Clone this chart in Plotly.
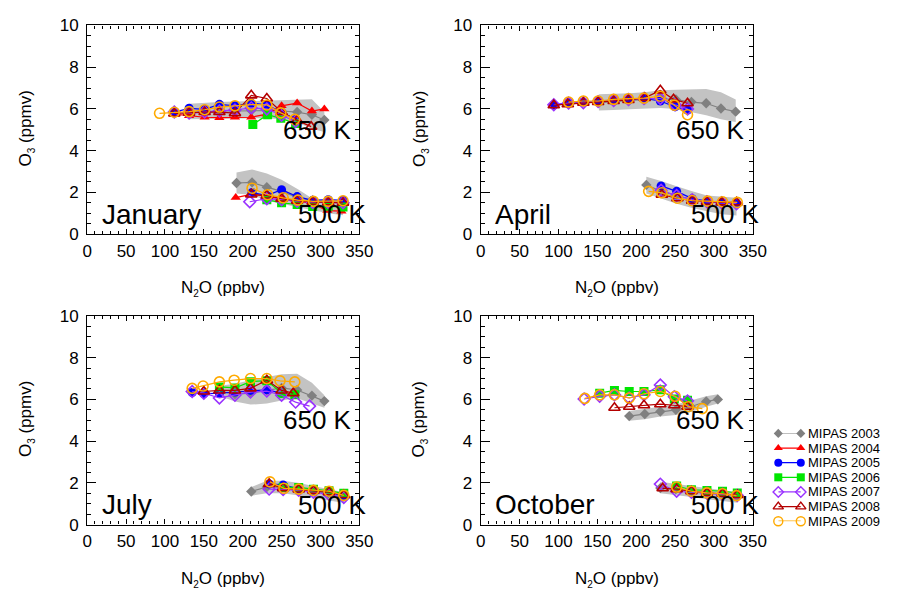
import plotly.graph_objects as go

FONT = "Arial, Liberation Sans, Helvetica, sans-serif"

YEARS = [2003, 2004, 2005, 2006, 2007, 2008, 2009]
LEGEND_LABELS = ["MIPAS 2003", "MIPAS 2004", "MIPAS 2005", "MIPAS 2006",
                 "MIPAS 2007", "MIPAS 2008", "MIPAS 2009"]
MONTHS = ["January", "April", "July", "October"]
LEVELS = ["650 K", "500 K"]
X_TICKS = [0, 50, 100, 150, 200, 250, 300, 350]
Y_TICKS = [0, 2, 4, 6, 8, 10]

# ---------------- January ----------------
jan650_x03 = [131, 151, 170, 190, 211, 231, 250, 270, 289, 305]
jan650_y03 = [5.85, 5.88, 5.9, 5.9, 5.92, 5.92, 5.9, 5.85, 5.72, 5.47]
jan650_hi03 = [6.25, 6.3, 6.33, 6.35, 6.37, 6.4, 6.42, 6.44, 6.46, 5.85]
jan650_lo03 = [5.5, 5.52, 5.55, 5.55, 5.55, 5.55, 5.5, 5.35, 5.05, 4.9]
jan650_x04 = [112, 131, 151, 170, 190, 211, 231, 250, 270, 289, 305]
jan650_y04 = [5.75, 5.67, 5.6, 5.58, 5.6, 5.6, 5.75, 6.15, 6.28, 5.9, 6.0]
jan650_x05 = [112, 131, 151, 170, 190, 211, 231, 250, 268]
jan650_y05 = [5.85, 6.03, 5.98, 6.22, 6.15, 6.28, 6.2, 5.85, 5.5]
jan650_x06 = [213, 232, 249, 268]
jan650_y06 = [5.25, 5.72, 5.55, 5.3]
jan650_x07 = [112, 131, 151, 170, 190, 211, 231, 250, 268]
jan650_y07 = [5.85, 5.8, 5.85, 5.9, 5.95, 6.05, 6.0, 5.7, 5.4]
jan650_x08 = [112, 131, 151, 170, 190, 211, 231, 250, 270, 288]
jan650_y08 = [5.78, 5.82, 5.85, 5.85, 5.8, 6.65, 6.5, 5.85, 5.45, 5.15]
jan650_x09 = [93, 112, 131, 151, 170, 190, 211, 231, 249, 267]
jan650_y09 = [5.79, 5.84, 5.87, 5.96, 6.09, 6.15, 6.21, 6.19, 5.81, 5.5]

jan500_x03 = [192, 212, 231, 250, 271, 290, 310, 329]
jan500_y03 = [2.45, 2.48, 2.25, 2.05, 1.75, 1.6, 1.55, 1.52]
jan500_hi03 = [2.95, 3.1, 2.9, 2.6, 2.15, 1.7, 1.62, 1.6]
jan500_lo03 = [1.95, 1.88, 1.6, 1.45, 1.3, 1.15, 1.0, 0.9]
jan500_x04 = [191, 211, 232, 250, 270, 290, 309, 327]
jan500_y04 = [1.75, 1.9, 1.82, 1.68, 1.6, 1.45, 1.13, 1.1]
jan500_x05 = [212, 231, 250, 270, 290, 310, 329]
jan500_y05 = [2.0, 1.85, 2.13, 1.8, 1.62, 1.65, 1.62]
jan500_x06 = [231, 250, 270, 290, 310, 329]
jan500_y06 = [1.65, 1.5, 1.42, 1.32, 1.33, 1.3]
jan500_x07 = [209, 231, 250, 270, 290, 310, 329]
jan500_y07 = [1.55, 1.7, 1.65, 1.58, 1.52, 1.52, 1.5]
jan500_x08 = [211, 231, 250, 270, 290, 310, 329]
jan500_y08 = [1.9, 1.85, 1.7, 1.6, 1.55, 1.52, 1.5]
jan500_x09 = [212, 232, 252, 271, 291, 310, 329]
jan500_y09 = [2.2, 1.89, 1.74, 1.63, 1.57, 1.57, 1.6]

# ---------------- April ----------------
apr650_x03 = [152, 171, 191, 211, 231, 251, 271, 290, 309, 328]
apr650_y03 = [6.3, 6.35, 6.4, 6.45, 6.5, 6.45, 6.33, 6.27, 6.02, 5.87]
apr650_hi03 = [6.7, 6.72, 6.75, 6.8, 6.9, 6.92, 6.93, 6.95, 6.8, 6.45]
apr650_lo03 = [5.92, 5.95, 5.98, 6.0, 6.05, 6.0, 5.85, 5.7, 5.5, 5.37]
apr650_x05 = [94, 113, 132, 151, 171, 190, 210, 231, 250, 266]
apr650_y05 = [6.18, 6.3, 6.33, 6.35, 6.42, 6.45, 6.5, 6.38, 6.1, 5.95]
apr650_x07 = [94, 113, 132, 151, 171, 190, 210, 231, 250, 266]
apr650_y07 = [6.2, 6.28, 6.3, 6.35, 6.4, 6.45, 6.5, 6.5, 6.2, 6.0]
apr650_x08 = [94, 112, 132, 151, 171, 190, 211, 231, 248, 266]
apr650_y08 = [6.18, 6.23, 6.3, 6.33, 6.38, 6.43, 6.53, 6.89, 6.46, 6.27]
apr650_x09 = [113, 132, 151, 171, 190, 210, 231, 249, 266]
apr650_y09 = [6.33, 6.38, 6.38, 6.46, 6.49, 6.52, 6.61, 6.18, 5.72]

apr500_x03 = [213, 232, 252, 272, 291, 310, 329]
apr500_y03 = [2.36, 2.05, 1.85, 1.65, 1.55, 1.5, 1.45]
apr500_hi03 = [2.75, 2.55, 2.3, 2.05, 1.85, 1.78, 1.74]
apr500_lo03 = [1.95, 1.7, 1.45, 1.25, 1.1, 0.95, 0.89]
apr500_x05 = [232, 252, 272, 291, 310, 329]
apr500_y05 = [2.31, 2.05, 1.7, 1.58, 1.52, 1.5]
apr500_x07 = [232, 252, 272, 291, 310, 329]
apr500_y07 = [2.1, 1.85, 1.65, 1.55, 1.5, 1.45]
apr500_x08 = [233, 253, 272, 291, 310, 329]
apr500_y08 = [1.89, 1.72, 1.6, 1.55, 1.52, 1.52]
apr500_x09 = [216, 233, 253, 272, 292, 311, 330]
apr500_y09 = [2.05, 1.98, 1.72, 1.61, 1.58, 1.55, 1.52]

# ---------------- July ----------------
jul650_x03 = [171, 190, 210, 231, 250, 270, 289, 305]
jul650_y03 = [6.4, 6.25, 6.3, 6.45, 6.55, 6.45, 6.18, 5.92]
jul650_hi03 = [6.65, 6.75, 6.92, 7.05, 7.2, 7.23, 6.8, 6.2]
jul650_lo03 = [6.15, 5.9, 5.75, 5.8, 5.95, 6.05, 5.8, 5.6]
jul650_x05 = [135, 150, 170, 190, 210, 231, 250]
jul650_y05 = [6.33, 6.27, 6.3, 6.35, 6.43, 6.46, 6.3]
jul650_x06 = [170, 190, 210, 231, 250, 267]
jul650_y06 = [6.6, 6.55, 6.85, 6.9, 6.3, 6.22]
jul650_x07 = [135, 150, 170, 190, 210, 231, 250, 268, 286]
jul650_y07 = [6.38, 6.3, 6.07, 6.2, 6.35, 6.4, 6.2, 5.87, 5.68]
jul650_x08 = [150, 170, 190, 210, 231, 250, 265]
jul650_y08 = [6.38, 6.43, 6.43, 6.53, 6.92, 6.43, 6.3]
jul650_x09 = [135, 149, 170, 189, 210, 231, 248, 267]
jul650_y09 = [6.53, 6.64, 6.84, 6.92, 7.0, 7.0, 6.89, 6.84]

jul500_x03 = [211, 231, 251, 271, 291, 310, 330]
jul500_y03 = [1.59, 1.8, 1.8, 1.7, 1.6, 1.5, 1.35]
jul500_hi03 = [1.8, 2.1, 2.1, 2.0, 1.85, 1.7, 1.55]
jul500_lo03 = [1.38, 1.5, 1.5, 1.4, 1.3, 1.15, 1.05]
jul500_x05 = [234, 252, 272, 291, 311, 330]
jul500_y05 = [1.95, 1.9, 1.72, 1.62, 1.55, 1.38]
jul500_x06 = [252, 272, 291, 311, 330]
jul500_y06 = [1.78, 1.78, 1.7, 1.62, 1.5]
jul500_x07 = [234, 252, 272, 291, 311, 330]
jul500_y07 = [1.7, 1.68, 1.65, 1.55, 1.45, 1.3]
jul500_x08 = [234, 252, 272, 291, 311, 330]
jul500_y08 = [1.95, 1.75, 1.68, 1.62, 1.55, 1.42]
jul500_x09 = [235, 253, 272, 291, 311, 330]
jul500_y09 = [2.05, 1.74, 1.7, 1.64, 1.6, 1.4]

# ---------------- October ----------------
oct650_x03 = [191, 211, 231, 251, 270, 290, 305]
oct650_y03 = [5.2, 5.3, 5.42, 5.5, 5.65, 5.9, 6.0]
oct650_hi03 = [5.45, 5.55, 5.65, 5.75, 5.95, 6.15, 6.25]
oct650_lo03 = [4.98, 5.05, 5.18, 5.25, 5.4, 5.65, 5.8]
oct650_x06 = [153, 172, 191, 210, 231, 249, 266]
oct650_y06 = [6.3, 6.43, 6.38, 6.38, 6.46, 6.02, 5.96]
oct650_x07 = [133, 153, 172, 191, 210, 231, 249, 266]
oct650_y07 = [6.02, 6.15, 6.22, 6.07, 6.22, 6.69, 6.13, 5.93]
oct650_x08 = [172, 191, 210, 231, 249, 266]
oct650_y08 = [5.6, 5.65, 5.72, 5.77, 5.72, 5.65]
oct650_x09 = [134, 153, 172, 191, 210, 231, 250, 267, 285]
oct650_y09 = [6.05, 6.22, 6.22, 6.07, 6.27, 6.38, 6.15, 5.65, 5.56]

oct500_x03 = [231, 251, 271, 291, 311, 330]
oct500_y03 = [1.75, 1.7, 1.6, 1.5, 1.45, 1.35]
oct500_hi03 = [2.05, 1.95, 1.85, 1.72, 1.65, 1.55]
oct500_lo03 = [1.5, 1.42, 1.32, 1.22, 1.12, 1.05]
oct500_x06 = [252, 271, 291, 311, 330]
oct500_y06 = [1.85, 1.67, 1.64, 1.6, 1.52]
oct500_x07 = [231, 252, 271, 291, 311, 330]
oct500_y07 = [1.94, 1.6, 1.55, 1.5, 1.45, 1.4]
oct500_x08 = [234, 252, 271, 291, 311, 330]
oct500_y08 = [1.74, 1.7, 1.6, 1.52, 1.48, 1.42]
oct500_x09 = [252, 271, 291, 311, 329]
oct500_y09 = [1.8, 1.6, 1.52, 1.48, 1.39]

# ---------------- assemble ----------------
panels = [
    ([(jan650_x03, jan650_hi03, jan650_lo03), (jan500_x03, jan500_hi03, jan500_lo03)],
     [(2003, jan650_x03, jan650_y03), (2003, jan500_x03, jan500_y03),
      (2004, jan650_x04, jan650_y04), (2004, jan500_x04, jan500_y04),
      (2005, jan650_x05, jan650_y05), (2005, jan500_x05, jan500_y05),
      (2006, jan650_x06, jan650_y06), (2006, jan500_x06, jan500_y06),
      (2007, jan650_x07, jan650_y07), (2007, jan500_x07, jan500_y07),
      (2008, jan650_x08, jan650_y08), (2008, jan500_x08, jan500_y08),
      (2009, jan650_x09, jan650_y09), (2009, jan500_x09, jan500_y09)]),
    ([(apr650_x03, apr650_hi03, apr650_lo03), (apr500_x03, apr500_hi03, apr500_lo03)],
     [(2003, apr650_x03, apr650_y03), (2003, apr500_x03, apr500_y03),
      (2005, apr650_x05, apr650_y05), (2005, apr500_x05, apr500_y05),
      (2007, apr650_x07, apr650_y07), (2007, apr500_x07, apr500_y07),
      (2008, apr650_x08, apr650_y08), (2008, apr500_x08, apr500_y08),
      (2009, apr650_x09, apr650_y09), (2009, apr500_x09, apr500_y09)]),
    ([(jul650_x03, jul650_hi03, jul650_lo03), (jul500_x03, jul500_hi03, jul500_lo03)],
     [(2003, jul650_x03, jul650_y03), (2003, jul500_x03, jul500_y03),
      (2005, jul650_x05, jul650_y05), (2005, jul500_x05, jul500_y05),
      (2006, jul650_x06, jul650_y06), (2006, jul500_x06, jul500_y06),
      (2007, jul650_x07, jul650_y07), (2007, jul500_x07, jul500_y07),
      (2008, jul650_x08, jul650_y08), (2008, jul500_x08, jul500_y08),
      (2009, jul650_x09, jul650_y09), (2009, jul500_x09, jul500_y09)]),
    ([(oct650_x03, oct650_hi03, oct650_lo03), (oct500_x03, oct500_hi03, oct500_lo03)],
     [(2003, oct650_x03, oct650_y03), (2003, oct500_x03, oct500_y03),
      (2006, oct650_x06, oct650_y06), (2006, oct500_x06, oct500_y06),
      (2007, oct650_x07, oct650_y07), (2007, oct500_x07, oct500_y07),
      (2008, oct650_x08, oct650_y08), (2008, oct500_x08, oct500_y08),
      (2009, oct650_x09, oct650_y09), (2009, oct500_x09, oct500_y09)]),
]

STYLE = {
    2003: dict(color="#808080", symbol="diamond", size=8),
    2004: dict(color="#FF0000", symbol="triangle-up", size=9),
    2005: dict(color="#0000FF", symbol="circle", size=9),
    2006: dict(color="#00E600", symbol="square", size=9),
    2007: dict(color="#9A32FF", symbol="diamond-open", size=9),
    2008: dict(color="#B40000", symbol="triangle-up-open", size=10),
    2009: dict(color="#FFAA00", symbol="circle-open", size=10),
}
LINE_COLOR = {2003: "#808080", 2004: "#FF0000", 2005: "#0000FF", 2006: "#00E600",
              2007: "#9A32FF", 2008: "#B40000", 2009: "#FFAA00"}
BAND_COLOR = "#C3C3C3"

W, H = 898, 599
XDOM = [[84 / W, 362 / W], [486 / W, 764 / W]]
YDOM = [[1 - 232.5 / H, 1 - 17 / H], [1 - 532.5 / H, 1 - 317 / H]]

fig = go.Figure()
axis_ids = ["", "2", "3", "4"]

for p, (bands, series) in enumerate(panels):
    xr = "x" + axis_ids[p]
    yr = "y" + axis_ids[p]
    for bx, bhi, blo in bands:
        fig.add_trace(go.Scatter(
            x=list(bx) + list(bx)[::-1], y=list(bhi) + list(blo)[::-1],
            fill="toself", fillcolor=BAND_COLOR, line=dict(width=0),
            mode="lines", hoverinfo="skip", showlegend=False, xaxis=xr, yaxis=yr))
    for yr_, sx, sy in series:
        st = STYLE[yr_]
        open_m = st["symbol"].endswith("open")
        fig.add_trace(go.Scatter(
            x=sx, y=sy, mode="lines+markers", showlegend=False,
            line=dict(color=LINE_COLOR[yr_], width=1.2),
            marker=dict(symbol=st["symbol"], size=st["size"], color=st["color"],
                        line=dict(width=1.6 if open_m else 0, color=st["color"])),
            xaxis=xr, yaxis=yr, name=str(yr_)))

# custom legend (markers at both ends of the sample line)
for i, yr_ in enumerate(YEARS):
    st = STYLE[yr_]
    open_m = st["symbol"].endswith("open")
    fig.add_trace(go.Scatter(
        x=[0, 1], y=[i, i], mode="lines+markers", showlegend=False, cliponaxis=False,
        line=dict(color=LINE_COLOR[yr_], width=1.2),
        marker=dict(symbol=st["symbol"], size=st["size"] - 1, color=st["color"],
                    line=dict(width=1.4 if open_m else 0, color=st["color"])),
        xaxis="x5", yaxis="y5", hoverinfo="skip"))

tickfont = dict(family=FONT, size=17, color="black")
layout = dict(
    width=W, height=H, margin=dict(l=0, r=0, t=0, b=0),
    paper_bgcolor="white", plot_bgcolor="white", showlegend=False,
    font=dict(family=FONT, color="black"),
)
for p in range(4):
    col, row = p % 2, p // 2
    xa = dict(domain=XDOM[col], range=[0, 350], tickvals=X_TICKS, ticks="inside",
              ticklen=5, tickwidth=1, tickcolor="black", showline=True, linecolor="black",
              linewidth=1.3, mirror="ticks", showgrid=False, zeroline=False,
              minor=dict(dtick=10, ticks="inside", ticklen=3, tickwidth=1, tickcolor="black"),
              tickfont=tickfont, ticklabelstandoff=1,
              anchor="y" + axis_ids[p])
    ya = dict(domain=YDOM[row], range=[0, 10], tickvals=Y_TICKS, ticks="inside",
              ticklen=9, tickwidth=1, tickcolor="black", showline=True, linecolor="black",
              linewidth=1.3, mirror="ticks", showgrid=False, zeroline=False,
              minor=dict(dtick=0.5, ticks="inside", ticklen=4, tickwidth=1, tickcolor="black"),
              tickfont=tickfont, ticklabelstandoff=4,
              anchor="x" + axis_ids[p])
    layout["xaxis" + axis_ids[p]] = xa
    layout["yaxis" + axis_ids[p]] = ya

layout["xaxis5"] = dict(domain=[790 / W, 813 / W], range=[0, 1], visible=False, anchor="y5")
layout["yaxis5"] = dict(domain=[1 - 529 / H, 1 - 438.3 / H], range=[6, 0], visible=False, anchor="x5")

SUB = "<sub><span style='font-size:10px'>{}</span></sub>"
annotations = []
for p in range(4):
    xr = "x" + axis_ids[p]
    yr = "y" + axis_ids[p]
    annotations.append(dict(x=249, y=5.0, xref=xr, yref=yr, text=LEVELS[0], showarrow=False,
                            xanchor="left", yanchor="middle",
                            font=dict(family=FONT, size=26, color="black")))
    annotations.append(dict(x=268, y=0.95, xref=xr, yref=yr, text=LEVELS[1], showarrow=False,
                            xanchor="left", yanchor="middle",
                            font=dict(family=FONT, size=26, color="black")))
    annotations.append(dict(x=16, y=0.95, xref=xr, yref=yr, text=MONTHS[p], showarrow=False,
                            xanchor="left", yanchor="middle",
                            font=dict(family=FONT, size=28, color="black")))
    col, row = p % 2, p // 2
    xc = (XDOM[col][0] + XDOM[col][1]) / 2
    annotations.append(dict(x=xc, y=1 - (289 + 300 * row) / H, xref="paper", yref="paper",
                            text="N" + SUB.format("2") + "O (ppbv)", showarrow=False,
                            xanchor="center", yanchor="middle",
                            font=dict(family=FONT, size=17, color="black")))
    annotations.append(dict(x=(22 + 402 * col) / W, y=1 - (124 + 300 * row) / H,
                            xref="paper", yref="paper",
                            text="O" + SUB.format("3") + " (ppmv)", showarrow=False, textangle=-90,
                            xanchor="center", yanchor="middle",
                            font=dict(family=FONT, size=17, color="black")))

for i, lab in enumerate(LEGEND_LABELS):
    annotations.append(dict(x=1, y=i, xref="x5", yref="y5", text=lab, showarrow=False,
                            xanchor="left", yanchor="middle", xshift=5,
                            font=dict(family=FONT, size=13, color="black")))

layout["annotations"] = annotations
fig.update_layout(**layout)
fig.write_html("out.html", config={"displayModeBar": False},
               post_script=("document.body.style.margin='0px';"
                            "document.body.style.padding='0px';"
                            "document.body.style.overflow='hidden';"
                            "document.documentElement.style.overflow='hidden';"))
